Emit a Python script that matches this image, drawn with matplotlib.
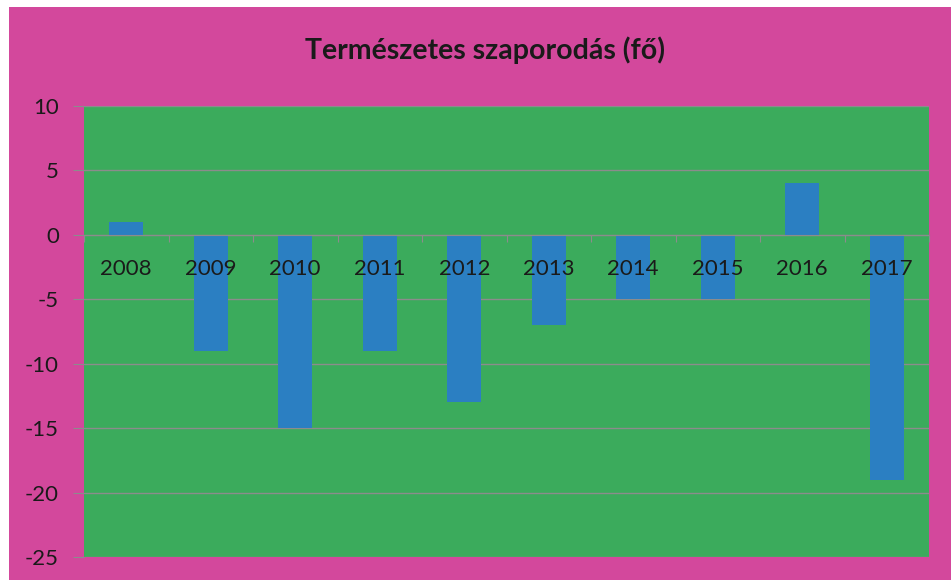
import matplotlib.pyplot as plt
from matplotlib.patches import Rectangle
import numpy as np

# data
years = ['2008', '2009', '2010', '2011', '2012', '2013', '2014', '2015', '2016', '2017']
values = [1, -9, -15, -9, -13, -7, -5, -5, 4, -19]
y_ticks = [10, 5, 0, -5, -10, -15, -20, -25]

pink = '#d3489c'
green = '#3bab5c'
blue = '#2b7fc2'

plt.rcParams['font.family'] = ['Lato', 'DejaVu Sans']

fig = plt.figure(figsize=(9.51, 5.8), dpi=100, facecolor='white')
# magenta chart background with small white margin top/left
fig.patches.append(Rectangle((9 / 951, 0), 1, 573 / 580, transform=fig.transFigure,
                             facecolor=pink, edgecolor='none', zorder=-1))

ax = fig.add_axes([84 / 951, 1 - 557 / 580, 845 / 951, 451 / 580])
ax.set_facecolor(green)

x = np.arange(len(years))
ax.bar(x, values, width=0.4, color=blue, zorder=3)

ax.set_xlim(-0.5, len(years) - 0.5)
ax.set_ylim(-25, 10)
ax.set_yticks(y_ticks)
ax.set_yticklabels([str(v) for v in y_ticks])
ax.grid(axis='y', color='#8c8c8c', linewidth=1.0, zorder=1)
ax.tick_params(axis='y', length=8, color='#8c8c8c', labelsize=16, labelcolor='#1a1a1a', pad=10)

# category axis at zero, ticks between categories
ax.spines['bottom'].set_position(('data', 0))
ax.spines['bottom'].set_color('#8c8c8c')
ax.spines['bottom'].set_zorder(4)
for s in ['top', 'right', 'left']:
    ax.spines[s].set_visible(False)
ax.set_xticks(np.arange(len(years) + 1) - 0.5)
ax.set_xticklabels([])
ax.tick_params(axis='x', length=5, color='#8c8c8c', direction='out')
for i, yr in enumerate(years):
    ax.text(i, -2.65, yr, ha='center', va='center', fontsize=16, color='#1a1a1a', zorder=5)

fig.text(485 / 951, 1 - 50 / 580, 'Természetes szaporodás (fő)', ha='center', va='center',
         fontsize=20.5, fontweight='bold', color='#1a1a1a')

fig.savefig('out.png', dpi=100, facecolor='white')
